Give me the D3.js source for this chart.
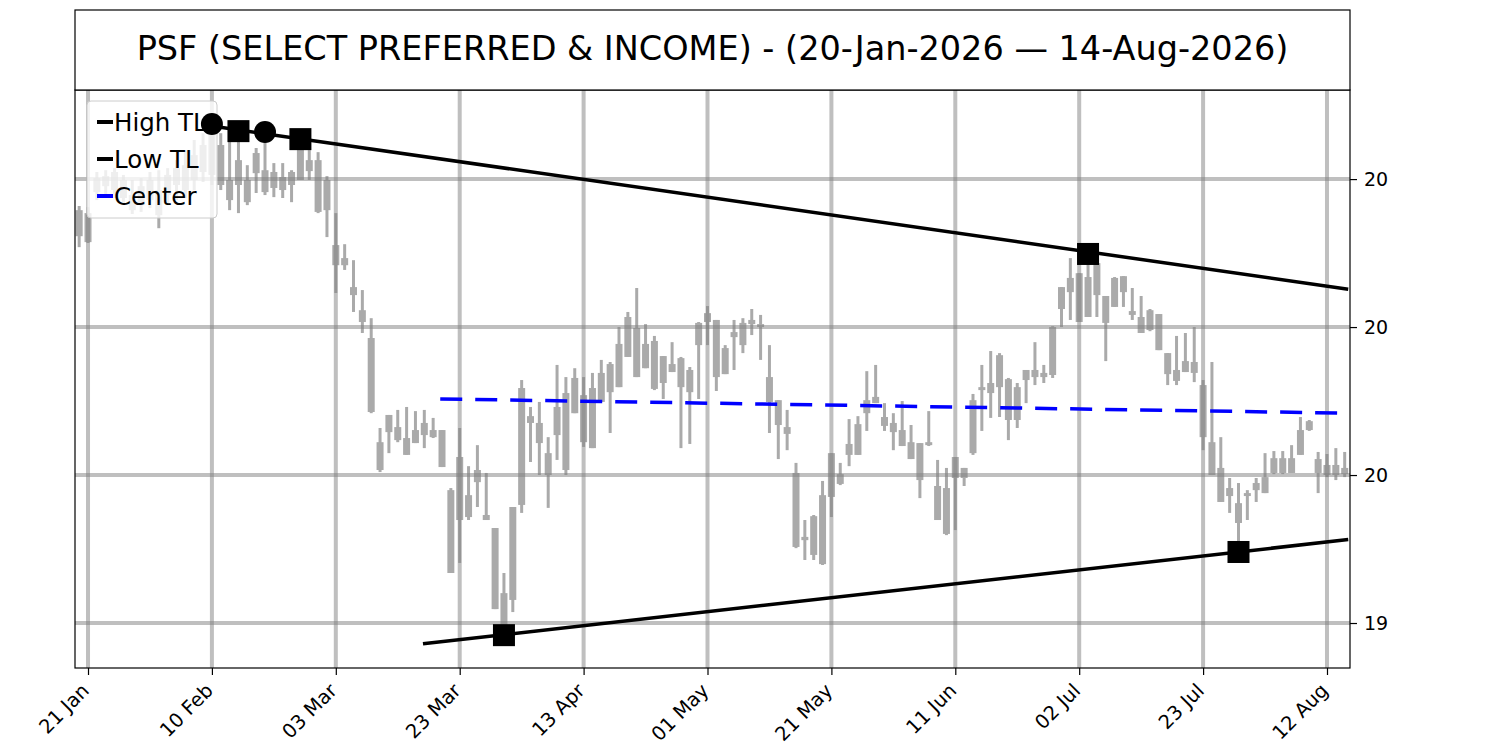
<!DOCTYPE html>
<html>
<head>
<meta charset="utf-8">
<script src="https://cdn.jsdelivr.net/npm/d3@7"></script>
<style>
  body { margin: 0; background: #fff; }
  text { font-family: "DejaVu Sans", sans-serif; }
</style>
</head>
<body>
<svg class="chart" width="1500" height="750"></svg>
<script>
// PSF daily candles, 20 Jan -> 14 Aug 2026 (NYSE trading days)
const dates = [
  "2026-01-20","2026-01-21","2026-01-22","2026-01-23","2026-01-26","2026-01-27","2026-01-28","2026-01-29","2026-01-30",
  "2026-02-02","2026-02-03","2026-02-04","2026-02-05","2026-02-06","2026-02-09","2026-02-10","2026-02-11","2026-02-12","2026-02-13",
  "2026-02-17","2026-02-18","2026-02-19","2026-02-20","2026-02-23","2026-02-24","2026-02-25","2026-02-26","2026-02-27",
  "2026-03-02","2026-03-03","2026-03-04","2026-03-05","2026-03-06","2026-03-09","2026-03-10","2026-03-11","2026-03-12","2026-03-13",
  "2026-03-16","2026-03-17","2026-03-18","2026-03-19","2026-03-20","2026-03-23","2026-03-24","2026-03-25","2026-03-26","2026-03-27",
  "2026-03-30","2026-03-31","2026-04-01","2026-04-02","2026-04-06","2026-04-07","2026-04-08","2026-04-09","2026-04-10",
  "2026-04-13","2026-04-14","2026-04-15","2026-04-16","2026-04-17","2026-04-20","2026-04-21","2026-04-22","2026-04-23","2026-04-24",
  "2026-04-27","2026-04-28","2026-04-29","2026-04-30","2026-05-01","2026-05-04","2026-05-05","2026-05-06","2026-05-07","2026-05-08",
  "2026-05-11","2026-05-12","2026-05-13","2026-05-14","2026-05-15","2026-05-18","2026-05-19","2026-05-20","2026-05-21","2026-05-22",
  "2026-05-26","2026-05-27","2026-05-28","2026-05-29","2026-06-01","2026-06-02","2026-06-03","2026-06-04","2026-06-05",
  "2026-06-08","2026-06-09","2026-06-10","2026-06-11","2026-06-12","2026-06-15","2026-06-16","2026-06-17","2026-06-18",
  "2026-06-22","2026-06-23","2026-06-24","2026-06-25","2026-06-26","2026-06-29","2026-06-30","2026-07-01","2026-07-02",
  "2026-07-06","2026-07-07","2026-07-08","2026-07-09","2026-07-10","2026-07-13","2026-07-14","2026-07-15","2026-07-16","2026-07-17",
  "2026-07-20","2026-07-21","2026-07-22","2026-07-23","2026-07-24","2026-07-27","2026-07-28","2026-07-29","2026-07-30","2026-07-31",
  "2026-08-03","2026-08-04","2026-08-05","2026-08-06","2026-08-07","2026-08-10","2026-08-11","2026-08-12","2026-08-13","2026-08-14"
];

const opens = [
  20.395,20.385,20.503,20.510,20.524,20.497,20.446,20.476,20.497,20.463,
  20.514,20.537,20.547,20.581,20.615,20.649,20.615,20.497,20.564,20.497,
  20.588,20.530,20.524,20.507,20.524,20.605,20.564,20.564,20.497,20.277,
  20.233,20.135,20.057,19.963,19.611,19.703,19.662,19.625,19.652,19.676,
  19.652,19.652,19.449,19.561,19.432,19.517,19.365,19.321,19.101,19.392,
  19.794,19.699,19.676,19.574,19.730,19.777,19.828,19.770,19.794,19.845,
  19.875,19.943,20.034,19.997,19.943,19.953,19.902,19.875,19.895,19.855,
  20.014,20.047,20.024,19.929,19.983,20.014,20.024,20.010,19.831,19.753,
  19.662,19.507,19.291,19.361,19.432,19.574,19.503,19.605,19.672,19.753,
  19.764,19.696,19.676,19.652,19.611,19.608,19.611,19.463,19.456,19.561,
  19.524,19.753,19.797,19.811,19.905,19.824,19.797,19.855,19.855,19.845,
  20.000,20.135,20.166,20.182,20.169,20.216,20.105,20.166,20.172,20.054,
  20.034,20.057,20.044,19.912,19.855,19.885,19.882,19.804,19.611,19.524,
  19.456,19.405,19.439,19.473,19.493,19.557,19.557,19.557,19.652,19.682,
  19.554,19.534,19.534,19.524
];
const highs = [
  20.409,20.405,20.524,20.530,20.537,20.514,20.497,20.503,20.524,20.530,
  20.537,20.564,20.598,20.632,20.655,20.686,20.655,20.649,20.662,20.547,
  20.605,20.659,20.554,20.554,20.530,20.635,20.598,20.591,20.510,20.385,
  20.280,20.226,20.125,20.030,19.659,19.703,19.720,19.730,19.716,19.720,
  19.693,19.652,19.456,19.659,19.530,19.601,19.507,19.321,19.169,19.392,
  19.821,19.730,19.747,19.628,19.872,19.831,19.861,19.831,19.845,19.889,
  19.882,20.000,20.051,20.132,20.010,19.970,19.902,19.949,19.899,19.865,
  20.017,20.071,20.024,19.939,20.024,20.030,20.061,20.041,19.939,19.753,
  19.720,19.541,19.348,19.365,19.480,19.574,19.541,19.689,19.699,19.851,
  19.872,19.743,19.709,19.750,19.669,19.608,19.716,19.551,19.524,19.561,
  19.524,19.774,19.872,19.919,19.912,19.828,19.811,19.855,19.949,19.872,
  20.003,20.135,20.233,20.182,20.247,20.216,20.105,20.169,20.172,20.132,
  20.105,20.061,20.044,19.912,19.970,19.980,20.000,19.821,19.882,19.628,
  19.490,19.473,19.449,19.490,19.574,19.581,19.581,19.601,19.696,19.686,
  19.578,19.571,19.591,19.578
];
const lows = [
  20.270,20.284,20.429,20.446,20.436,20.412,20.382,20.389,20.402,20.334,
  20.412,20.429,20.436,20.463,20.490,20.480,20.463,20.395,20.385,20.412,
  20.453,20.446,20.439,20.436,20.422,20.497,20.497,20.385,20.304,20.115,
  20.193,20.051,19.980,19.709,19.510,19.574,19.611,19.568,19.608,19.591,
  19.625,19.527,19.169,19.203,19.348,19.392,19.348,19.047,18.959,19.037,
  19.372,19.544,19.500,19.389,19.551,19.500,19.709,19.595,19.591,19.747,
  19.642,19.797,19.899,19.831,19.861,19.787,19.757,19.848,19.591,19.605,
  19.757,19.939,19.784,19.841,19.855,19.912,19.973,19.889,19.642,19.554,
  19.584,19.253,19.213,19.213,19.196,19.358,19.466,19.530,19.568,19.649,
  19.743,19.649,19.584,19.598,19.554,19.422,19.598,19.348,19.297,19.314,
  19.463,19.568,19.649,19.693,19.696,19.618,19.659,19.743,19.804,19.811,
  19.828,20.000,20.024,20.017,20.034,20.034,19.885,20.068,20.068,20.024,
  19.980,19.986,19.922,19.804,19.804,19.848,19.814,19.584,19.500,19.409,
  19.372,19.240,19.348,19.409,19.439,19.503,19.503,19.507,19.568,19.649,
  19.439,19.493,19.483,19.493
];
const closes = [
  20.307,20.287,20.456,20.476,20.463,20.436,20.395,20.412,20.429,20.378,
  20.446,20.480,20.463,20.497,20.524,20.514,20.480,20.429,20.480,20.422,
  20.520,20.456,20.470,20.463,20.480,20.497,20.527,20.389,20.395,20.209,
  20.209,20.108,20.017,19.713,19.517,19.645,19.618,19.568,19.608,19.635,
  19.628,19.527,19.169,19.348,19.358,19.476,19.348,19.047,18.986,19.078,
  19.399,19.676,19.608,19.500,19.635,19.517,19.709,19.611,19.591,19.747,
  19.780,19.797,19.899,19.831,19.861,19.791,19.811,19.848,19.797,19.780,
  19.939,20.017,19.831,19.841,19.966,19.939,20.010,20.000,19.747,19.669,
  19.639,19.257,19.280,19.230,19.199,19.426,19.470,19.568,19.568,19.709,
  19.743,19.666,19.645,19.598,19.554,19.483,19.601,19.348,19.301,19.490,
  19.490,19.574,19.787,19.777,19.797,19.686,19.686,19.821,19.831,19.831,
  19.838,20.061,20.118,20.017,20.034,20.108,20.014,20.068,20.118,20.041,
  19.980,19.990,19.922,19.841,19.818,19.848,19.845,19.628,19.500,19.409,
  19.429,19.338,19.429,19.449,19.439,19.507,19.507,19.507,19.568,19.652,
  19.507,19.500,19.500,19.503
];

// trend lines: [bar index, price]
const highTL = [[15, 20.679], [143.4, 20.128]];
const lowTL = [[38.85, 18.930], [143.4, 19.282]];
const centerTL = [[40.8, 19.757], [143.4, 19.709]];

// pivots touching the lines
const pivots = [
  { i: 15, v: 20.686, shape: "circle" },
  { i: 18, v: 20.662, shape: "square" },
  { i: 21, v: 20.659, shape: "circle" },
  { i: 25, v: 20.635, shape: "square" },
  { i: 114, v: 20.247, shape: "square" },
  { i: 48, v: 18.959, shape: "square" },
  { i: 131, v: 19.240, shape: "square" }
];

const yTicks = [19, 19.5, 20, 20.5];
const yTickLabels = ["19", "20", "20", "20"];
const legendItems = [
  { name: "High TL", color: "black" },
  { name: "Low TL", color: "black" },
  { name: "Center", color: "blue" }
];
const title = "PSF (SELECT PREFERRED & INCOME) - (20-Jan-2026 \u2014 14-Aug-2026)";

const pL = 75, pR = 1350, pT = 90, pB = 668;
const svg = d3.select(".chart");

const x = d3.scaleLinear().domain([-0.47, 143.6]).range([pL, pR]);
const y = d3.scaleLinear().domain([18.848, 20.801]).range([pB, pT]);

const parse = d3.timeParse("%Y-%m-%d");
const fmt = d3.timeFormat("%d %b");
const tickIdx = d3.range(1, dates.length, 14);

svg.append("defs").append("clipPath").attr("id", "clip")
  .append("rect").attr("x", pL).attr("y", pT)
  .attr("width", pR - pL).attr("height", pB - pT);

const plot = svg.append("g").attr("clip-path", "url(#clip)");

// candles
const bars = plot.append("g").selectAll("g")
  .data(dates.map((d, i) => i))
  .enter().append("g");

bars.append("line")
  .attr("x1", i => x(i)).attr("x2", i => x(i))
  .attr("y1", i => y(highs[i])).attr("y2", i => y(lows[i]))
  .attr("stroke", "#aaaaaa").attr("stroke-width", 3);

bars.append("rect")
  .attr("x", i => x(i) - 3.5)
  .attr("width", 7)
  .attr("y", i => y(Math.max(opens[i], closes[i])))
  .attr("height", i => Math.max(2, y(Math.min(opens[i], closes[i])) - y(Math.max(opens[i], closes[i]))))
  .attr("fill", "#aaaaaa");

// grid
plot.append("g").selectAll("line")
  .data(tickIdx).enter().append("line")
  .attr("x1", d => x(d)).attr("x2", d => x(d))
  .attr("y1", pT).attr("y2", pB)
  .attr("stroke", "#808080").attr("stroke-opacity", 0.5).attr("stroke-width", 4);

plot.append("g").selectAll("line")
  .data(yTicks).enter().append("line")
  .attr("x1", pL).attr("x2", pR)
  .attr("y1", d => y(d)).attr("y2", d => y(d))
  .attr("stroke", "#808080").attr("stroke-opacity", 0.5).attr("stroke-width", 4);

// trend lines
const line = d3.line().x(d => x(d[0])).y(d => y(d[1]));
plot.append("path").datum(highTL).attr("d", line)
  .attr("fill", "none").attr("stroke", "black").attr("stroke-width", 3.5);
plot.append("path").datum(lowTL).attr("d", line)
  .attr("fill", "none").attr("stroke", "black").attr("stroke-width", 3.5);
plot.append("path").datum(centerTL).attr("d", line)
  .attr("fill", "none").attr("stroke", "blue").attr("stroke-width", 3.5)
  .attr("stroke-dasharray", "22,13");

// legend
const leg = svg.append("g");
leg.append("rect")
  .attr("x", 87).attr("y", 101).attr("width", 130).attr("height", 117).attr("rx", 4)
  .attr("fill", "white").attr("fill-opacity", 0.8)
  .attr("stroke", "#cccccc").attr("stroke-width", 1);
legendItems.forEach((d, k) => {
  const ly = 122 + k * 37;
  leg.append("line").attr("x1", 97).attr("x2", 113).attr("y1", ly).attr("y2", ly)
    .attr("stroke", d.color).attr("stroke-width", 4);
  leg.append("text").text(d.name).attr("x", 114).attr("y", ly + 8.5)
    .attr("font-size", 24.5).attr("fill", "black");
});

// pivot markers
const marks = svg.append("g");
marks.selectAll("circle")
  .data(pivots.filter(d => d.shape === "circle")).enter().append("circle")
  .attr("cx", d => x(d.i)).attr("cy", d => y(d.v)).attr("r", 11).attr("fill", "black");
marks.selectAll("rect")
  .data(pivots.filter(d => d.shape === "square")).enter().append("rect")
  .attr("x", d => x(d.i) - 11).attr("y", d => y(d.v) - 11)
  .attr("width", 22).attr("height", 22).attr("fill", "black");

// frame
svg.append("rect").attr("x", pL).attr("y", pT)
  .attr("width", pR - pL).attr("height", pB - pT)
  .attr("fill", "none").attr("stroke", "black").attr("stroke-width", 1.2);

// axes
const yAxis = svg.append("g").attr("transform", `translate(${pR},0)`)
  .call(d3.axisRight(y).tickValues(yTicks).tickSize(7).tickPadding(7)
    .tickFormat((d, k) => yTickLabels[k]));
const xAxis = svg.append("g").attr("transform", `translate(0,${pB})`)
  .call(d3.axisBottom(x).tickValues(tickIdx).tickSize(7)
    .tickFormat(i => fmt(parse(dates[i]))));

[yAxis, xAxis].forEach(a => {
  a.select(".domain").remove();
  a.selectAll(".tick line").attr("stroke", "black").attr("stroke-width", 1.2);
  a.selectAll("text").attr("font-family", "DejaVu Sans").attr("fill", "black");
});
yAxis.selectAll("text").attr("font-size", 19);

xAxis.selectAll("text")
  .attr("font-size", 19.5)
  .attr("text-anchor", "end")
  .attr("transform", "translate(-3,19) rotate(-45)")
  .attr("dy", "0.35em").attr("y", 0).attr("x", 0);

// title box
svg.append("rect").attr("x", pL).attr("y", 10)
  .attr("width", pR - pL).attr("height", 80)
  .attr("fill", "white").attr("stroke", "black").attr("stroke-width", 1.2);
svg.append("text").text(title)
  .attr("x", (pL + pR) / 2).attr("y", 60)
  .attr("text-anchor", "middle").attr("font-size", 33.5).attr("fill", "black");
</script>
</body>
</html>
